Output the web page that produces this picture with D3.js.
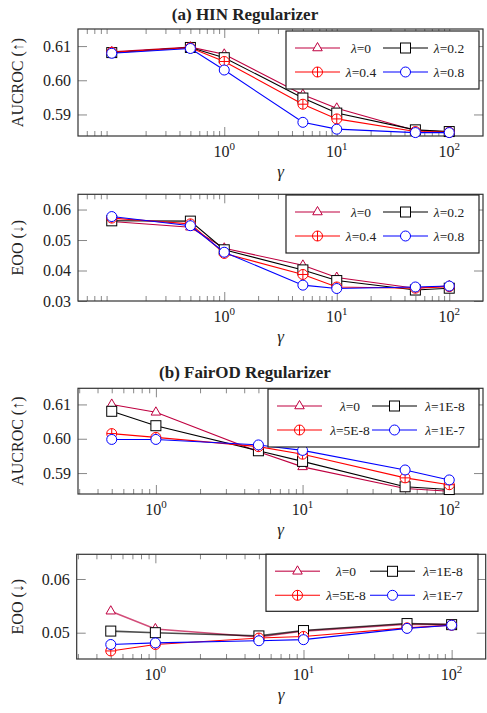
<!DOCTYPE html>
<html>
<head>
<meta charset="utf-8">
<script src="https://cdn.jsdelivr.net/npm/d3@7"></script>
<style>
  body { margin: 0; background: #fff; }
  svg text { font-family: "Liberation Serif", "Times New Roman", serif; fill: #222; }
</style>
</head>
<body>
<svg id="chart" width="487" height="713"></svg>
<script>
// gamma values and lambda labels
const hinGamma = [0.1, 0.5, 1, 5, 10, 50, 100];
const fairGamma = [0.5, 1, 5, 10, 50, 100];
const hinLambdas = ["0", "0.2", "0.4", "0.8"];
const fairLambdas = ["0", "1E-8", "5E-8", "1E-7"];

// one row per lambda
const hinAuc = [
    [0.6083, 0.6097, 0.6076, 0.5958, 0.5918, 0.5853, 0.5849],
    [0.6081, 0.6096, 0.6066, 0.5948, 0.5904, 0.5855, 0.5850],
    [0.6082, 0.6095, 0.6055, 0.5930, 0.5887, 0.5850, 0.5848],
    [0.6079, 0.6093, 0.6030, 0.5877, 0.5857, 0.5847, 0.5847]
];
const hinEoo = [
    [0.0561, 0.0542, 0.0473, 0.0417, 0.0377, 0.0342, 0.0350],
    [0.0563, 0.0562, 0.0468, 0.0402, 0.0367, 0.0336, 0.0342],
    [0.0572, 0.0553, 0.0456, 0.0387, 0.0346, 0.0342, 0.0347],
    [0.0577, 0.0547, 0.0460, 0.0352, 0.0341, 0.0346, 0.0349]
];
const fairAuc = [
    [0.6100, 0.6077, 0.5962, 0.5918, 0.5855, 0.5847],
    [0.6080, 0.6038, 0.5965, 0.5934, 0.5860, 0.5852],
    [0.6015, 0.6004, 0.5977, 0.5955, 0.5886, 0.5866],
    [0.5998, 0.5998, 0.5982, 0.5966, 0.5909, 0.5880]
];
const fairEoo = [
    [0.0540, 0.0507, 0.0492, 0.0503, 0.0516, 0.0515],
    [0.0503, 0.0500, 0.0494, 0.0504, 0.0517, 0.0515],
    [0.0466, 0.0478, 0.0490, 0.0493, 0.0509, 0.0514],
    [0.0478, 0.0481, 0.0485, 0.0487, 0.0508, 0.0514]
];
const aucTicks = [0.59, 0.60, 0.61];
const hinEooTicks = [0.03, 0.04, 0.05, 0.06];
const fairEooTicks = [0.05, 0.06];
const xMajorTicks = [1, 10, 100];

const colors = ["#bf0040", "#000000", "#ff0000", "#0000ff"];
const markers = ["triangle", "square", "oplus", "circle"];

const svg = d3.select("#chart");

// titles
svg.append("text").attr("x", 245).attr("y", 20).attr("text-anchor", "middle")
    .style("font-size", "17px").style("font-weight", "bold").text("(a) HIN Regularizer");
svg.append("text").attr("x", 245).attr("y", 378).attr("text-anchor", "middle")
    .style("font-size", "17px").style("font-weight", "bold").text("(b) FairOD Regularizer");

const panels = [
    { left: 78, top: 29, right: 483, bottom: 136, gamma: hinGamma, data: hinAuc, lambdas: hinLambdas,
      xLog: [-1.3, 2.3], yDom: [0.5837, 0.615], yTicks: aucTicks, yLabel: "AUCROC (\u2191)",
      legend: { x: 286, y: 31, w: 193, h: 58, col1: 361, col2: 449 } },
    { left: 78, top: 194.3, right: 483, bottom: 301, gamma: hinGamma, data: hinEoo, lambdas: hinLambdas,
      xLog: [-1.3, 2.3], yDom: [0.03, 0.065], yTicks: hinEooTicks, yLabel: "EOO (\u2193)",
      legend: { x: 286, y: 195, w: 193, h: 58, col1: 361, col2: 449 } },
    { left: 78, top: 388.3, right: 483, bottom: 494, gamma: fairGamma, data: fairAuc, lambdas: fairLambdas,
      xLog: [-0.531, 2.23], yDom: [0.5839, 0.6147], yTicks: aucTicks, yLabel: "AUCROC (\u2191)",
      legend: { x: 268, y: 389, w: 211, h: 58, col1: 350, col2: 445 } },
    { left: 76.7, top: 554.3, right: 485.7, bottom: 659, gamma: fairGamma, data: fairEoo, lambdas: fairLambdas,
      xLog: [-0.531, 2.23], yDom: [0.0451, 0.0646], yTicks: fairEooTicks, yLabel: "EOO (\u2193)",
      legend: { x: 266, y: 554.3, w: 212, h: 57, col1: 346, col2: 443 }, faded: true }
];

function drawMarker(g, type, cx, cy, color) {
    const r = 5;
    if (type === "triangle") {
        const pts = [[0, -5.5], [4.76, 2.75], [-4.76, 2.75]].map(p => [cx + p[0], cy + p[1]]);
        g.append("polygon").attr("points", pts.join(" "))
            .attr("fill", "white").attr("stroke", color).attr("stroke-width", 1);
    } else if (type === "square") {
        g.append("rect").attr("x", cx - r).attr("y", cy - r).attr("width", 2 * r).attr("height", 2 * r)
            .attr("fill", "white").attr("stroke", color).attr("stroke-width", 1);
    } else if (type === "circle") {
        g.append("circle").attr("cx", cx).attr("cy", cy).attr("r", r)
            .attr("fill", "white").attr("stroke", color).attr("stroke-width", 1);
    } else {
        g.append("circle").attr("cx", cx).attr("cy", cy).attr("r", r)
            .attr("fill", "white").attr("stroke", color).attr("stroke-width", 1);
        g.append("path").attr("d", `M${cx - r},${cy}H${cx + r}M${cx},${cy - r}V${cy + r}`)
            .attr("stroke", color).attr("stroke-width", 1);
    }
}

panels.forEach(p => {
    const w = p.right - p.left, h = p.bottom - p.top;
    const g = svg.append("g").attr("transform", `translate(${p.left},${p.top})`);

    const x = d3.scaleLog().domain([Math.pow(10, p.xLog[0]), Math.pow(10, p.xLog[1])]).range([0, w]);
    const y = d3.scaleLinear().domain(p.yDom).range([h, 0]);

    // minor log ticks
    const minor = [];
    for (let e = -2; e <= 2; e++) {
        for (let m = 2; m <= 9; m++) {
            const v = m * Math.pow(10, e);
            if (v > x.domain()[0] && v < x.domain()[1]) minor.push(v);
        }
    }
    const tickStyle = sel => {
        sel.select(".domain").remove();
        sel.selectAll(".tick line").attr("stroke", "#888").attr("stroke-width", 1);
    };
    g.append("g").attr("transform", `translate(0,${h})`)
        .call(d3.axisBottom(x).tickValues(minor).tickSize(-5).tickFormat("")).call(tickStyle);
    g.append("g").call(d3.axisTop(x).tickValues(minor).tickSize(-5).tickFormat("")).call(tickStyle);
    g.append("g").attr("transform", `translate(0,${h})`)
        .call(d3.axisBottom(x).tickValues(xMajorTicks).tickSize(-9).tickFormat("")).call(tickStyle);
    g.append("g").call(d3.axisTop(x).tickValues(xMajorTicks).tickSize(-9).tickFormat("")).call(tickStyle);

    // y axes
    g.append("g").call(d3.axisLeft(y).tickValues(p.yTicks).tickSize(-9).tickPadding(7).tickFormat(d3.format(".2f")))
        .call(tickStyle)
        .selectAll("text").style("font-size", "16px").style("fill", "#222");
    g.append("g").attr("transform", `translate(${w},0)`)
        .call(d3.axisRight(y).tickValues(p.yTicks).tickSize(-9).tickFormat("")).call(tickStyle);

    // x tick labels with exponents
    xMajorTicks.forEach(t => {
        const txt = g.append("text").attr("x", x(t)).attr("y", h + 21).attr("text-anchor", "middle")
            .style("font-size", "16px");
        txt.append("tspan").text("10");
        txt.append("tspan").attr("dy", -7).style("font-size", "11px").text(Math.round(Math.log10(t)));
    });

    // frame
    g.append("rect").attr("width", w).attr("height", h)
        .attr("fill", "none").attr("stroke", "#333").attr("stroke-width", 1.2);

    // axis labels
    g.append("text").attr("x", w / 2).attr("y", h + 41).attr("text-anchor", "middle")
        .style("font-size", "17px").style("font-style", "italic").text("\u03b3");
    g.append("text").attr("transform", `translate(${23 - p.left},${h / 2}) rotate(-90)`)
        .attr("text-anchor", "middle").style("font-size", "16px").text(p.yLabel);

    // series
    const line = d3.line().x(d => x(d[0])).y(d => y(d[1]));
    p.data.forEach((vals, i) => {
        const pts = p.gamma.map((gm, j) => [gm, vals[j]]);
        const faded = p.faded && i < 2;
        g.append("path").datum(pts).attr("d", line).attr("fill", "none")
            .attr("stroke", colors[i]).attr("stroke-width", faded ? 1.6 : 1.1)
            .attr("stroke-opacity", faded ? 0.7 : 1);
        pts.forEach(d => drawMarker(g, markers[i], x(d[0]), y(d[1]), colors[i]));
    });

    // legend
    const L = p.legend;
    const lg = svg.append("g");
    lg.append("rect").attr("x", L.x).attr("y", L.y).attr("width", L.w).attr("height", L.h)
        .attr("fill", "white").attr("stroke", "#222").attr("stroke-width", 1.2);
    p.lambdas.forEach((lam, i) => {
        const col = i % 2, row = Math.floor(i / 2);
        const cy = L.y + 17 + row * 24;
        const lx = col === 0 ? L.x + 9 : L.x + (L.w > 200 ? 104 : 97);
        const faded = p.faded && i < 2;
        lg.append("line").attr("x1", lx).attr("x2", lx + 45).attr("y1", cy).attr("y2", cy)
            .attr("stroke", colors[i]).attr("stroke-width", faded ? 1.6 : 1.1)
            .attr("stroke-opacity", faded ? 0.7 : 1);
        drawMarker(lg, markers[i], lx + 22.5, cy, colors[i]);
        const t = lg.append("text").attr("x", col === 0 ? L.col1 : L.col2).attr("y", cy + 5)
            .attr("text-anchor", "middle").style("font-size", "13.5px");
        t.append("tspan").style("font-style", "italic").text("\u03bb");
        t.append("tspan").text("=" + lam);
    });
});
</script>
</body>
</html>
